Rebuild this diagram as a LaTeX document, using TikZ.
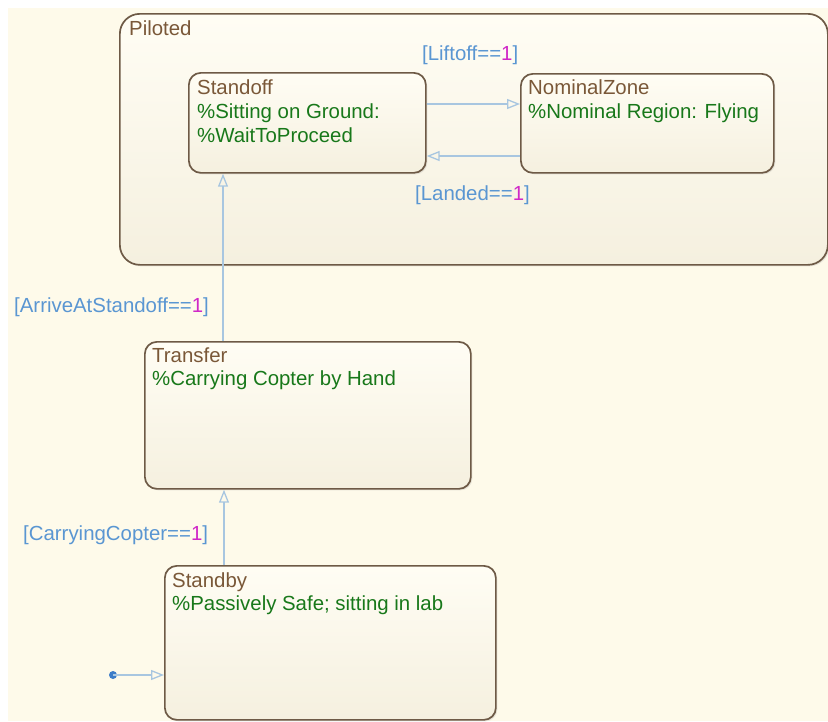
\documentclass[tikz,border=0pt]{standalone}
\usepackage{fontspec}
\setmainfont{Liberation Sans}
\usetikzlibrary{arrows.meta,calc,shadows}

\definecolor{canvas}{HTML}{FEFAEA}
\definecolor{statetop}{HTML}{FFFDF4}
\definecolor{statebot}{HTML}{F5F0DF}
\definecolor{stateedge}{HTML}{6E5A46}
\definecolor{titlecol}{HTML}{7A5838}
\definecolor{commentcol}{HTML}{18781A}
\definecolor{guardcol}{HTML}{5A96D2}
\definecolor{numcol}{HTML}{D028C8}
\definecolor{transcol}{HTML}{A8C6E0}
\definecolor{dotcol}{HTML}{3C7CC8}

\tikzset{
  statebox/.style={draw=stateedge, line width=1.7pt, top color=statetop, bottom color=statebot,
    rounded corners=#1, inner sep=0pt, anchor=north west,
    drop shadow={opacity=0.18, shadow xshift=1.5pt, shadow yshift=-1.5pt}},
  statebox/.default=12pt,
  titletext/.style={anchor=base west, inner sep=0pt, text=titlecol},
  commenttext/.style={anchor=base west, inner sep=0pt, text=commentcol},
  guardtext/.style={anchor=base west, inner sep=0pt, text=guardcol},
  trans/.style={draw=transcol, line width=1.4pt,
    -{Triangle[open, length=13pt, width=10pt, line width=1.3pt]}},
}
\newcommand{\one}{\textcolor{numcol}{1}}

\begin{document}
\begin{tikzpicture}[x=1pt, y=-1pt, font=\fontsize{20.4}{24}\selectfont]
  % canvas
  \fill[white] (0,0) rectangle (828,721);
  \fill[canvas] (8,8) rectangle (828,721);
  \useasboundingbox (0,0) rectangle (828,721);

  % superstate
  \node[statebox=20pt, minimum width=708pt, minimum height=251pt] (Piloted) at (119,13) {};
  \node[titletext] (PilotedT) at (129,35) {Piloted};

  % substates of Piloted
  \node[statebox, minimum width=237pt, minimum height=100pt] (Standoff) at (188,72) {};
  \node[titletext] (StandoffT) at (197,94) {Standoff};
  \node[commenttext] (StandoffC1) at (197,118) {\%Sitting on Ground:};
  \node[commenttext] (StandoffC2) at (197,142) {\%WaitToProceed};

  \node[statebox, minimum width=253pt, minimum height=99pt] (NominalZone) at (520,73) {};
  \node[titletext] (NominalZoneT) at (528,94) {NominalZone};
  \node[commenttext] (NominalZoneC) at (528,118) {\%Nominal Region: Flying};

  % outer states
  \node[statebox, minimum width=326pt, minimum height=147pt] (Transfer) at (144,341) {};
  \node[titletext] (TransferT) at (152,362) {Transfer};
  \node[commenttext] (TransferC) at (152,385) {\%Carrying Copter by Hand};

  \node[statebox, minimum width=331pt, minimum height=154pt] (Standby) at (164,565) {};
  \node[titletext] (StandbyT) at (172,587) {Standby};
  \node[commenttext] (StandbyC) at (172,610) {\%Passively Safe; sitting in lab};

  % transitions
  \draw[trans] ($(Standoff.north east)+(0,32)$) -- ($(NominalZone.north west)+(0,31)$);
  \draw[trans] ($(NominalZone.north west)+(0,83)$) -- ($(Standoff.north east)+(0,84)$);
  \draw[trans] ($(Transfer.north west)+(79,0)$) -- ($(Standoff.south west)+(35,0)$);
  \draw[trans] ($(Standby.north west)+(60,0)$) -- ($(Transfer.south west)+(80,0)$);

  % default transition
  \coordinate (init) at (113,675);
  \fill[dotcol] (init) circle (4pt);
  \draw[trans] (init) -- (Standby.west |- init);

  % guards
  \node[guardtext] (gLift) at (422,60) {[Liftoff==\one]};
  \node[guardtext] (gLand) at (415,200) {[Landed==\one]};
  \node[guardtext] (gArrive) at (14,312) {[ArriveAtStandoff==\one]};
  \node[guardtext] (gCarry) at (23,540) {[CarryingCopter==\one]};
\end{tikzpicture}
\end{document}
